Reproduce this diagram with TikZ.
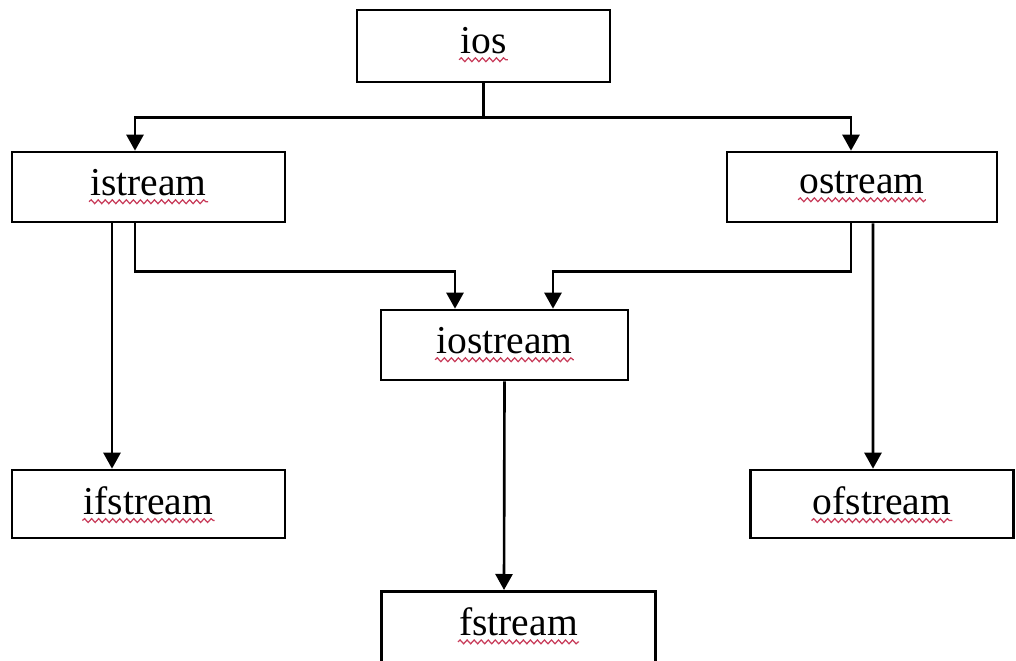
\documentclass[tikz,border=0pt]{standalone}
\usepackage{fontspec}
\setmainfont{Liberation Serif}
\usetikzlibrary{positioning, arrows.meta, calc, decorations.pathmorphing}

\tikzset{
    classbox/.style={draw, line width=1.5pt, minimum height=1.40cm},
    classname/.style={inner sep=0pt},
    squiggle/.style={draw={rgb,255:red,200;green,60;blue,90}, line width=0.7pt,
        decorate, decoration={snake, amplitude=1.1pt, segment length=4pt}}
}

\begin{document}
\begin{tikzpicture}[
    line width=1.5pt,        % box and connector lines
    >={Triangle[length=0.32cm, width=0.34cm]},
    font=\fontsize{22.5}{27}\selectfont
]

    % --- 1. page frame (bottom row is cut off) ---
    \clip (0, 0) rectangle (20.32, 13.22);

    % --- 2. class boxes ---
    \node [classbox, minimum width=5.06cm, minimum height=1.44cm] (ios) at (9.67, 12.30) {};
    \node [classbox, minimum width=5.46cm] (istream)  at (2.97, 9.48)  {};
    \node [classbox, minimum width=5.40cm] (ostream)  at (17.24, 9.48) {};
    \node [classbox, minimum width=4.94cm] (iostream) at (10.09, 6.32) {};
    \node [classbox, minimum width=5.46cm, minimum height=1.36cm] (ifstream) at (2.97, 3.14) {};
    \node [classbox, minimum width=5.26cm, minimum height=1.36cm] (ofstream) at (17.64, 3.14) {};
    \node [classbox, minimum width=5.48cm, minimum height=1.70cm, anchor=north] (fstream) at (10.37, 1.42) {};

    % class names with the red spell-check underline
    \foreach \cls in {ios, istream, ostream, iostream, ifstream, ofstream, fstream} {
        \node [classname] (\cls-name) at ([yshift=-0.64cm]\cls.north) {\cls};
        \draw [squiggle] ([yshift=-3.5pt]\cls-name.base west) -- ([yshift=-3.5pt]\cls-name.base east);
    }

    % --- 3. inheritance connectors ---
    % ios splits into istream / ostream
    \coordinate (split) at ($(ios.south)+(0,-0.68)$);
    \draw (ios.south) -- (split);
    \draw [->] (split) -| ([xshift=-0.27cm]istream.north);
    \draw [->] (split) -| ([xshift=-0.22cm]ostream.north);

    % istream / ostream into iostream
    \coordinate (join)  at ($(iostream.north)+(0,0.74)$);
    \coordinate (in-l)  at ([xshift=-0.99cm]iostream.north);
    \coordinate (in-r)  at ([xshift=0.97cm]iostream.north);
    \draw [->] ([xshift=-0.27cm]istream.south) |- (join -| in-l) -- (in-l);
    \draw [->] ([xshift=-0.22cm]ostream.south) |- (join -| in-r) -- (in-r);

    % straight down to the file streams
    \draw [->] ([xshift=-0.73cm]istream.south) -- ([xshift=-0.73cm]ifstream.north);
    \draw [->] ([xshift=0.22cm]ostream.south) -- ([xshift=-0.18cm]ofstream.north);
    \draw [->] (iostream.south) -- ([xshift=-0.29cm]fstream.north);

\end{tikzpicture}
\end{document}
